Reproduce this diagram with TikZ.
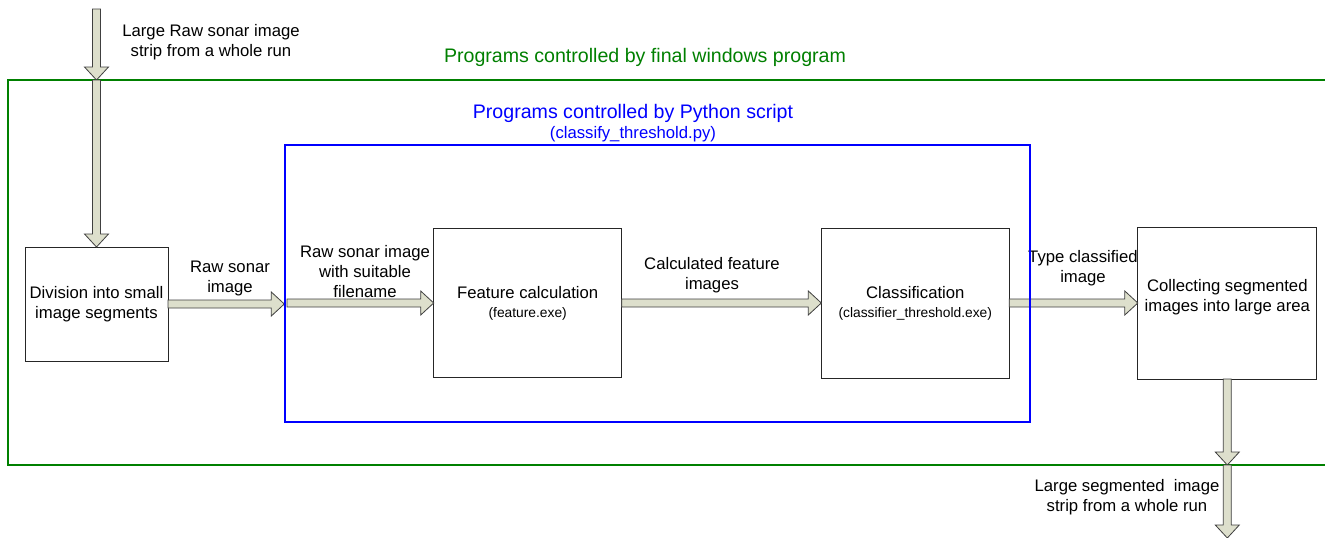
\documentclass[tikz,border=0pt]{standalone}
\usepackage{fontspec}
\setmainfont{Liberation Sans}
\usetikzlibrary{calc}
\definecolor{arrowfill}{RGB}{221,223,204}
\definecolor{arrowline}{RGB}{64,64,64}
\definecolor{gframe}{RGB}{0,128,0}
\definecolor{bframe}{RGB}{0,0,255}
\newcommand\bigtxt{\fontsize{16.7}{20}\selectfont}
\newcommand\smalltxt{\fontsize{13.8}{17}\selectfont}
\newcommand\titletxt{\fontsize{19.6}{23}\selectfont}
\tikzset{
  procbox/.style={draw=black!85, line width=0.9pt, inner sep=0pt, outer sep=0pt, align=center, font=\bigtxt},
  lbl/.style={inner sep=0pt, align=center, font=\bigtxt},
  fatarrowstyle/.style={fill=arrowfill, draw=arrowline, line width=0.8pt, line join=miter}
}
\newcommand\fatarrow[2]{%
  \coordinate (fah) at ($(#2)!13pt!(#1)$);
  \filldraw[fatarrowstyle] ($(#1)!4pt!90:(#2)$) -- ($(fah)!4pt!90:(#2)$) -- ($(fah)!12pt!90:(#2)$) -- (#2) -- ($(fah)!12pt!-90:(#2)$) -- ($(fah)!4pt!-90:(#2)$) -- ($(#1)!4pt!-90:(#2)$) -- cycle;}
\begin{document}
\begin{tikzpicture}[x=1pt,y=-1pt]
\useasboundingbox (0,0) rectangle (1325,538);
\clip (0,0) rectangle (1325,538);
\fill[white] (0,0) rectangle (1325,538);
% frames
\node[draw=gframe, line width=1.6pt, inner sep=0pt, outer sep=0pt, minimum width=1332pt, minimum height=385pt] (green) at (674,272.5) {};
% boxes
\node[procbox, minimum width=143pt, minimum height=114pt] (box1) at (96.5,304) {Division into small\\image segments};
\node[procbox, minimum width=188pt, minimum height=149.5pt] (box2) at (527.7,303) {Feature calculation\\[-1pt]{\smalltxt(feature.exe)}};
\node[procbox, minimum width=188pt, minimum height=150pt] (box3) at (915.3,303) {Classification\\[-1pt]{\smalltxt(classifier\_threshold.exe)}};
\node[procbox, minimum width=179pt, minimum height=152pt] (box4) at (1227.3,303) {};
\node[lbl] (box4txt) at (1227.3,297.5) {Collecting segmented\\images into large area};
% titles and labels
\node[inner sep=0pt, font=\titletxt, text=gframe] (gtitle) at (645,57) {Programs controlled by final windows program};
\node[inner sep=0pt, font=\titletxt, text=bframe] (btitle) at (633,113) {Programs controlled by Python script};
\node[inner sep=0pt, font=\bigtxt, text=bframe] (bsub) at (633,134) {(classify\_threshold.py)};
\node[lbl] (ltop) at (211,42) {Large Raw sonar image\\strip from a whole run};
\node[lbl] (lraw) at (230,278) {Raw sonar\\image};
\node[lbl] (lsuit) at (365,272) {Raw sonar image\\with suitable\\filename};
\node[lbl] (lcalc) at (712,275.5) {Calculated feature\\images};
\node[lbl] (ltype) at (1083,268.5) {Type classified\\image};
\node[lbl] (lbot) at (1127,497) {Large segmented\ \ image\\strip from a whole run};
% connectors
\coordinate (inTop) at (box1.north |- 0,9);
\coordinate (gTop) at (box1.north |- green.north);
\coordinate (gBot) at (box4.south |- green.south);
\coordinate (outBot) at (box4.south |- 0,538);
\coordinate (bIn) at (284.3,304);
\coordinate (bOut) at (287,303);
\fatarrow{inTop}{gTop}
\fatarrow{gTop}{box1.north}
\fatarrow{box1.east}{bIn}
\fatarrow{bOut}{box2.west}
\fatarrow{box2.east}{box3.west}
\fatarrow{box3.east}{box4.west}
\fatarrow{box4.south}{gBot}
\fatarrow{gBot}{outBot}
% blue frame on top
\node[draw=bframe, line width=1.4pt, inner sep=0pt, outer sep=0pt, minimum width=745pt, minimum height=277pt] (blue) at (657.5,283.5) {};
\end{tikzpicture}
\end{document}
